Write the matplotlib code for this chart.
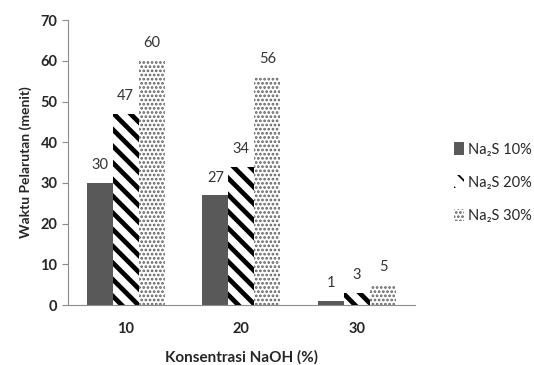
import matplotlib
matplotlib.use("Agg")
import matplotlib.pyplot as plt
import numpy as np

plt.rcParams['font.family'] = ['Lato', 'DejaVu Sans']

categories = ['10', '20', '30']
series_names = ['Na\u2082S 10%', 'Na\u2082S 20%', 'Na\u2082S 30%']
na2s_10 = [30, 27, 1]
na2s_20 = [47, 34, 3]
na2s_30 = [60, 56, 5]
values = [na2s_10, na2s_20, na2s_30]

fig = plt.figure(figsize=(5.34, 3.65), dpi=100)
ax = fig.add_axes([0.127, 0.164, 0.65, 0.781])

x = np.arange(len(categories))
w = 0.225
offsets = [-w, 0, w]
styles = [
    dict(color='#595959', edgecolor='none'),
    dict(color='white', edgecolor='black', hatch='\\\\', linewidth=0),
    dict(color='white', edgecolor='#606060', hatch='....', linewidth=0),
]
hatch_widths = [1.0, 3.4, 1.3]

bars_list = []
for i, (vals, st) in enumerate(zip(values, styles)):
    plt.rcParams['hatch.linewidth'] = hatch_widths[i]
    bars = ax.bar(x + offsets[i], vals, w, label=series_names[i], **st)
    bars_list.append(bars)
    for xi, v in zip(x + offsets[i], vals):
        ax.text(xi, v + 2.6, str(v), ha='center', va='bottom',
                fontsize=10.5, color='#333333')

ax.set_xlim(-0.5, 2.5)
ax.set_ylim(0, 70)
ax.set_yticks(range(0, 71, 10))
ax.set_xticks(x)
ax.set_xticklabels(categories)
for s in ['top', 'right']:
    ax.spines[s].set_visible(False)
for s in ['left', 'bottom']:
    ax.spines[s].set_color('#8c8c8c')
ax.tick_params(axis='y', length=4, color='#8c8c8c', labelsize=10.5,
               labelcolor='#262626')
ax.tick_params(axis='x', length=0, labelsize=10.5, labelcolor='#262626', pad=12)
for lab in ax.get_xticklabels() + ax.get_yticklabels():
    lab.set_fontweight('bold')

ax.set_ylabel('Waktu Pelarutan (menit)', fontsize=10, fontweight='bold',
              color='#262626', labelpad=6)
ax.set_xlabel('Konsentrasi NaOH (%)', fontsize=11, fontweight='bold',
              color='#262626', labelpad=10)

leg = fig.legend(handles=bars_list, labels=series_names,
                 loc='center left', bbox_to_anchor=(0.825, 0.5),
                 frameon=False, fontsize=10.5, handlelength=0.7,
                 handleheight=0.9, handletextpad=0.3, labelspacing=1.3)
for t in leg.get_texts():
    t.set_color('#262626')

fig.savefig('out.png', dpi=100)
